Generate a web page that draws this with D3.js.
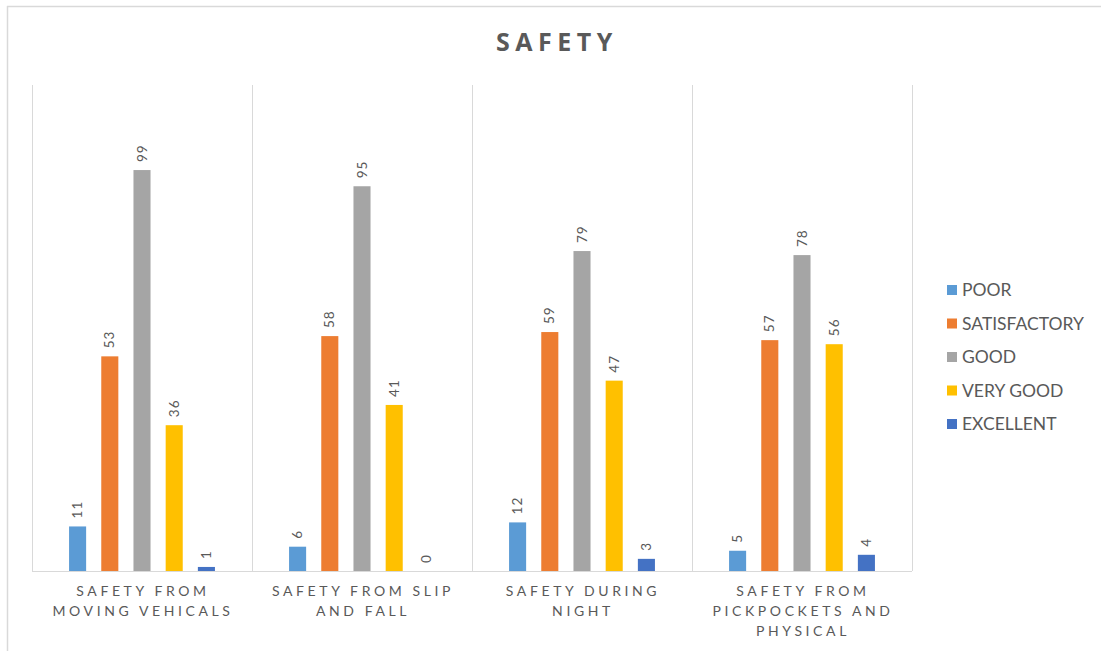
<!DOCTYPE html>
<html>
<head>
<meta charset="utf-8">
<script src="https://cdn.jsdelivr.net/npm/d3@7"></script>
<style>
  html, body { margin: 0; padding: 0; background: #fff; }
  svg { display: block; }
</style>
</head>
<body>
<svg id="chart" width="1101" height="651"></svg>
<script>
// Survey categories (x groups) and the rating series
const categories = [
  ["SAFETY FROM", "MOVING VEHICALS"],
  ["SAFETY FROM SLIP", "AND FALL"],
  ["SAFETY DURING", "NIGHT"],
  ["SAFETY FROM", "PICKPOCKETS AND", "PHYSICAL"]
];
const seriesNames = ["POOR", "SATISFACTORY", "GOOD", "VERY GOOD", "EXCELLENT"];
const poor         = [11, 6, 12, 5];
const satisfactory = [53, 58, 59, 57];
const good         = [99, 95, 79, 78];
const veryGood     = [36, 41, 47, 56];
const excellent    = [1, 0, 3, 4];
const seriesColors = ["#5B9BD5", "#ED7D31", "#A5A5A5", "#FFC000", "#4472C4"];

const seriesValues = [poor, satisfactory, good, veryGood, excellent];
const textColor = "#595959";
const gridColor = "#d9d9d9";

const svg = d3.select("#chart");

// chart frame
svg.append("line").attr("x1", 7).attr("x2", 1101).attr("y1", 6.5).attr("y2", 6.5)
  .attr("stroke", gridColor).attr("stroke-width", 1.5);
svg.append("line").attr("x1", 7.5).attr("x2", 7.5).attr("y1", 6).attr("y2", 651)
  .attr("stroke", gridColor).attr("stroke-width", 1.5);

// title
svg.append("text")
  .attr("x", 557).attr("y", 51)
  .attr("text-anchor", "middle")
  .attr("font-family", "Open Sans, sans-serif")
  .attr("font-weight", 700)
  .attr("font-size", 25)
  .attr("letter-spacing", 5.5)
  .attr("fill", textColor)
  .text("SAFETY");

const plot = { left: 32, right: 912, top: 85, bottom: 571 };

const x0 = d3.scaleBand()
  .domain(d3.range(categories.length))
  .range([plot.left, plot.right])
  .padding(0);

const x1 = d3.scaleBand()
  .domain(d3.range(seriesNames.length))
  .range([29.5, 190.5])
  .paddingInner(0.47)
  .paddingOuter(0.235);

const y = d3.scaleLinear().domain([0, 120]).range([plot.bottom, plot.top]);

// vertical category separators
const xBounds = categories.map((_, i) => x0(i)).concat([x0(categories.length - 1) + x0.bandwidth()]);
svg.append("g").selectAll("line").data(xBounds).join("line")
  .attr("x1", d => Math.round(d) + 0.5).attr("x2", d => Math.round(d) + 0.5)
  .attr("y1", plot.top).attr("y2", plot.bottom)
  .attr("stroke", gridColor).attr("stroke-width", 1);

// bars
const groups = svg.append("g").selectAll("g").data(categories).join("g")
  .attr("transform", (d, i) => `translate(${x0(i)},0)`);

groups.each(function(cat, ci) {
  const g = d3.select(this);
  seriesNames.forEach((name, si) => {
    const v = seriesValues[si][ci];
    g.append("rect")
      .attr("x", x1(si))
      .attr("y", y(v))
      .attr("width", x1.bandwidth())
      .attr("height", plot.bottom - y(v))
      .attr("fill", seriesColors[si]);
    const cx = x1(si) + x1.bandwidth() / 2;
    const ty = y(v) - 8;
    g.append("text")
      .attr("transform", `translate(${cx + 4.5},${ty}) rotate(-90)`)
      .attr("text-anchor", "start")
      .attr("font-family", "Lato, sans-serif")
      .attr("font-size", 13.5)
      .attr("letter-spacing", 1)
      .attr("fill", textColor)
      .text(v);
  });
});

// baseline
svg.append("line")
  .attr("x1", plot.left).attr("x2", plot.right)
  .attr("y1", plot.bottom + 0.5).attr("y2", plot.bottom + 0.5)
  .attr("stroke", gridColor).attr("stroke-width", 1);

// category labels
const catLabels = svg.append("g").selectAll("text").data(categories).join("text")
  .attr("x", (d, i) => x0(i) + x0.bandwidth() / 2 + 1)
  .attr("y", 596)
  .attr("text-anchor", "middle")
  .attr("font-family", "Lato, sans-serif")
  .attr("font-size", 14)
  .attr("letter-spacing", 3.6)
  .attr("fill", textColor);
catLabels.each(function(lines) {
  d3.select(this).selectAll("tspan").data(lines).join("tspan")
    .attr("x", d3.select(this).attr("x"))
    .attr("dy", (d, i) => i === 0 ? 0 : 20)
    .text(d => d);
});

// legend
const legend = svg.append("g").selectAll("g").data(seriesNames).join("g")
  .attr("transform", (d, i) => `translate(947,${290 + i * 33.5})`);
legend.append("rect")
  .attr("x", 0).attr("y", -5).attr("width", 10).attr("height", 10)
  .attr("fill", (d, i) => seriesColors[i]);
legend.append("text")
  .attr("x", 15).attr("y", 6)
  .attr("font-family", "Lato, sans-serif")
  .attr("font-size", 17.5)
  .attr("fill", textColor)
  .text(d => d);
</script>
</body>
</html>
